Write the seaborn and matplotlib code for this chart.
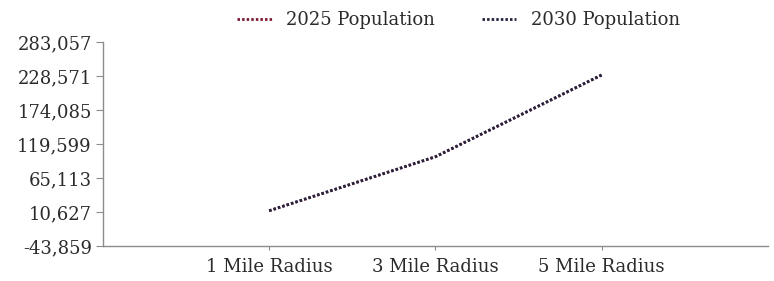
import matplotlib
matplotlib.use("Agg")
import matplotlib.pyplot as plt
import seaborn as sns
import pandas as pd

# Data
radius = ["1 Mile Radius", "3 Mile Radius", "5 Mile Radius"]
pop_2025 = [12500, 99000, 230000]
pop_2030 = [12700, 99200, 230200]
y_ticks = [-43859, 10627, 65113, 119599, 174085, 228571, 283057]

df = pd.DataFrame({
    "radius": radius * 2,
    "pop": pop_2025 + pop_2030,
    "series": ["2025 Population"] * 3 + ["2030 Population"] * 3,
})
df["x"] = [0, 1, 2, 0, 1, 2]

sns.set_style("white")
plt.rcParams["font.family"] = ["DejaVu Serif"]

fig = plt.figure(figsize=(7.74, 2.81), dpi=100)
ax = fig.add_axes([0.133, 0.1246, 0.859, 0.726])

palette = {"2025 Population": "#7a1a33", "2030 Population": "#23243f"}
sns.lineplot(data=df, x="x", y="pop", hue="series", palette=palette, ax=ax,
             linewidth=2.0, sort=False)
for line in ax.get_lines():
    line.set_linestyle((0, (0.9, 0.75)))
    line.set_dash_capstyle("butt")

ax.set_xlim(-1, 3)
ax.set_ylim(y_ticks[0], y_ticks[-1])
ax.set_yticks(y_ticks)
ax.set_yticklabels([f"{v:,}" for v in y_ticks])
ax.set_xticks([0, 1, 2])
ax.set_xticklabels(radius)
ax.set_xlabel("")
ax.set_ylabel("")

for s in ["top", "right"]:
    ax.spines[s].set_visible(False)
for s in ["left", "bottom"]:
    ax.spines[s].set_color("#8c8c8c")
    ax.spines[s].set_linewidth(1.0)
ax.tick_params(axis="y", left=True, length=5, color="#8c8c8c", labelsize=13,
               labelcolor="#2b2b2b", pad=3)
ax.tick_params(axis="x", bottom=True, length=3, color="#8c8c8c", labelsize=13,
               labelcolor="#2b2b2b", pad=6)

handles, labels = ax.get_legend_handles_labels()
for h in handles:
    h.set_linestyle((0, (0.9, 0.75)))
ax.legend(handles, labels, loc="lower center", bbox_to_anchor=(0.535, 1.0),
          ncol=2, frameon=False, fontsize=13, handlelength=1.9,
          handletextpad=0.8, columnspacing=2.6, borderaxespad=0.3,
          labelcolor="#2b2b2b")

fig.savefig("out.png", dpi=100)
